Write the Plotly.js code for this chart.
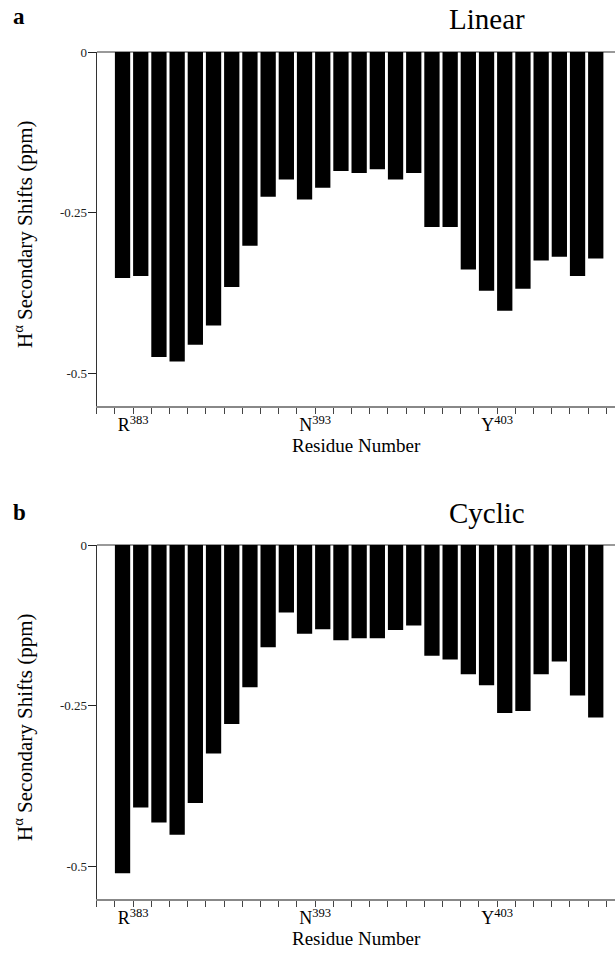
<!DOCTYPE html>
<html>
<head>
<meta charset="utf-8">
<script src="https://cdn.plot.ly/plotly-3.0.1.min.js"></script>
<style>html,body{margin:0;padding:0;background:#fff;}#chart{width:615px;height:959px;}</style>
</head>
<body>
<div id="chart"></div>
<script>
// Residue numbers for each bar (382 .. 408)
const residues = [382,383,384,385,386,387,388,389,390,391,392,393,394,395,396,397,398,399,400,401,402,403,404,405,406,407,408];
// H-alpha secondary shifts (ppm), linear peptide
const linearShifts = [-0.351,-0.348,-0.474,-0.481,-0.455,-0.425,-0.365,-0.301,-0.225,-0.198,-0.229,-0.211,-0.185,-0.188,-0.182,-0.198,-0.188,-0.272,-0.272,-0.338,-0.371,-0.402,-0.368,-0.324,-0.318,-0.348,-0.321];
// H-alpha secondary shifts (ppm), cyclic peptide
const cyclicShifts = [-0.510,-0.408,-0.431,-0.450,-0.401,-0.324,-0.278,-0.221,-0.159,-0.105,-0.138,-0.131,-0.148,-0.145,-0.145,-0.132,-0.125,-0.172,-0.178,-0.201,-0.218,-0.261,-0.258,-0.201,-0.181,-0.234,-0.268];
// x tick labels (labelled residues) ; every residue gets a minor tick
const labelledResidues = [383,393,403];
const labelledText = ['R<sup>383</sup>','N<sup>393</sup>','Y<sup>403</sup>'];
const yTickVals = [0,-0.25,-0.5];
const yTickText = ['0','-0.25','-0.5'];
const xTitle = 'Residue Number';
const yTitle = 'H<sup>α</sup> Secondary Shifts (ppm)';

const serif = 'Liberation Serif, Times New Roman, serif';
const W = 615, H = 959;

function xAxis(anchor){
  return {
    anchor: anchor,
    domain: [96.7/W, 1],
    range: [381, 381 + (W-96.7)/18.2],
    tickmode: 'array', tickvals: labelledResidues, ticktext: labelledText,
    ticks: 'outside', ticklen: 6, tickwidth: 1, tickcolor: '#444',
    minor: {tick0: 381, dtick: 1, ticks: 'outside', ticklen: 6, tickwidth: 1, tickcolor: '#444', showgrid: false},
    showline: true, linecolor: '#888', linewidth: 1.5,
    showgrid: false, zeroline: false,
    tickfont: {family: serif, size: 18, color: '#000'},
    ticklabelstandoff: -4,
    automargin: false, fixedrange: true
  };
}
function yAxis(anchor, dom){
  return {
    anchor: anchor,
    domain: dom,
    range: [-0.55, 0],
    tickmode: 'array', tickvals: yTickVals, ticktext: yTickText,
    ticks: 'outside', ticklen: 8, tickwidth: 1, tickcolor: '#222',
    showline: true, linecolor: '#333', linewidth: 1,
    showgrid: false,
    zeroline: true, zerolinecolor: '#999', zerolinewidth: 1.5,
    tickfont: {family: serif, size: 13, color: '#222'},
    ticklabelstandoff: -2,
    automargin: false, fixedrange: true
  };
}

const traces = [
  {type: 'bar', x: residues, y: linearShifts, xaxis: 'x', yaxis: 'y', offset: 0, width: 0.84,
   marker: {color: '#000', line: {width: 0}}, hoverinfo: 'x+y'},
  {type: 'bar', x: residues, y: cyclicShifts, xaxis: 'x2', yaxis: 'y2', offset: 0, width: 0.84,
   marker: {color: '#000', line: {width: 0}}, hoverinfo: 'x+y'}
];

function note(text, x, y, size, xanchor, angle){
  return {text: text, xref: 'paper', yref: 'paper', x: x/W, y: 1-y/H, xanchor: xanchor, yanchor: 'middle',
          textangle: angle || 0, showarrow: false, font: {family: serif, size: size, color: '#000'}};
}

const layout = {
  width: W, height: H,
  margin: {l: 0, r: 0, t: 0, b: 0},
  paper_bgcolor: '#fff', plot_bgcolor: '#fff',
  showlegend: false,
  xaxis: xAxis('y'),
  yaxis: yAxis('x', [1-406/H, 1-52/H]),
  xaxis2: xAxis('y2'),
  yaxis2: yAxis('x2', [1-899/H, 1-545/H]),
  annotations: [
    note('<b>a</b>', 19, 17, 23, 'center'),
    note('Linear', 527, 19, 29, 'right'),
    note('<b>b</b>', 19, 512, 23, 'center'),
    note('Cyclic', 527, 513, 29, 'right'),
    note(xTitle, 356, 445, 19, 'center'),
    note(xTitle, 356, 938, 19, 'center'),
    note(yTitle, 23, 234, 21, 'center', -90),
    note(yTitle, 23, 727, 21, 'center', -90)
  ]
};

Plotly.newPlot('chart', traces, layout, {staticPlot: true, displayModeBar: false});
</script>
</body>
</html>
